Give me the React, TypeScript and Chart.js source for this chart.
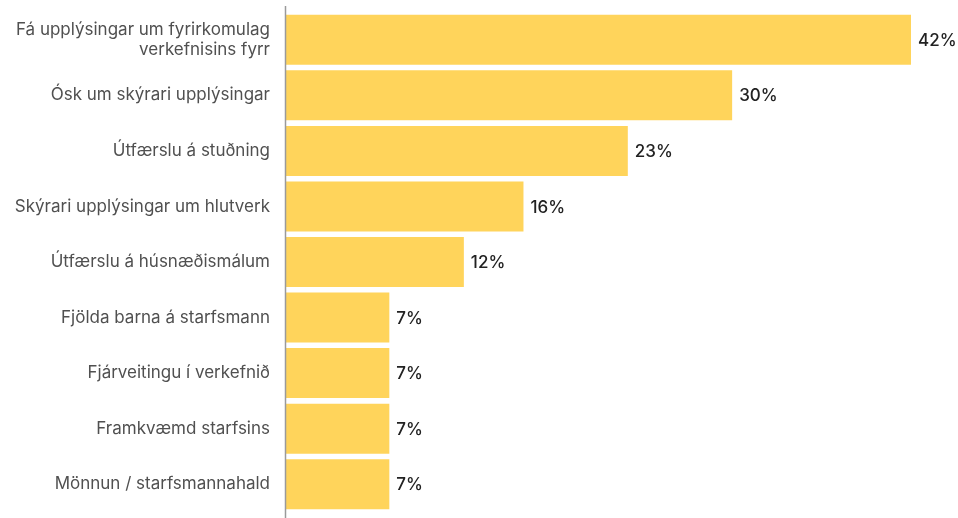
import React, { useEffect, useRef } from "react";
import { Chart, registerables } from "chart.js";

Chart.register(...registerables);

const categories: (string | string[])[] = [
  ["Fá upplýsingar um fyrirkomulag", "verkefnisins fyrr"],
  "Ósk um skýrari upplýsingar",
  "Útfærslu á stuðning",
  "Skýrari upplýsingar um hlutverk",
  "Útfærslu á húsnæðismálum",
  "Fjölda barna á starfsmann",
  "Fjárveitingu í verkefnið",
  "Framkvæmd starfsins",
  "Mönnun / starfsmannahald",
];
const values: number[] = [42, 30, 23, 16, 12, 7, 7, 7, 7];
const valueLabels: string[] = values.map((v) => `${v}%`);

const FONT = "Inter, 'Noto Sans', sans-serif";

const extras = {
  id: "extras",
  afterDatasetsDraw(chart: any) {
    const { ctx } = chart;
    const meta = chart.getDatasetMeta(0);
    ctx.save();
    ctx.font = `500 17px ${FONT}`;
    ctx.fillStyle = "#222222";
    ctx.textAlign = "left";
    ctx.textBaseline = "middle";
    meta.data.forEach((bar: any, i: number) => {
      ctx.fillText(valueLabels[i], bar.x + 7, bar.y + 1);
    });
    const x = chart.chartArea.left + 0.5;
    ctx.strokeStyle = "#9a9a9a";
    ctx.lineWidth = 1.5;
    ctx.beginPath();
    ctx.moveTo(x, 6);
    ctx.lineTo(x, chart.height);
    ctx.stroke();
    ctx.restore();
  },
};

export default function App() {
  const ref = useRef<HTMLCanvasElement>(null);
  useEffect(() => {
    document.body.style.margin = "0";
    const chart = new Chart(ref.current!, {
      type: "bar",
      data: {
        labels: categories,
        datasets: [
          {
            data: values,
            backgroundColor: "#FFD45B",
            borderWidth: 0,
            barPercentage: 0.9,
            categoryPercentage: 1,
          },
        ],
      },
      options: {
        indexAxis: "y",
        animation: false,
        responsive: false,
        layout: { padding: { top: 12, bottom: 6, right: 47, left: 0 } },
        plugins: { legend: { display: false }, tooltip: { enabled: false } },
        scales: {
          x: { display: false, min: 0, max: 42 },
          y: {
            afterFit(scale: any) {
              scale.width = 285;
              scale.paddingTop = 0;
              scale.paddingBottom = 0;
            },
            grid: { display: false, drawTicks: false },
            border: { display: false },
            ticks: {
              padding: 15,
              color: "#505050",
              font: { family: FONT, size: 17, lineHeight: 1.2 },
            },
          },
        },
      },
      plugins: [extras],
    });
    return () => chart.destroy();
  }, []);
  return <canvas ref={ref} width={958} height={518} style={{ display: "block" }} />;
}
